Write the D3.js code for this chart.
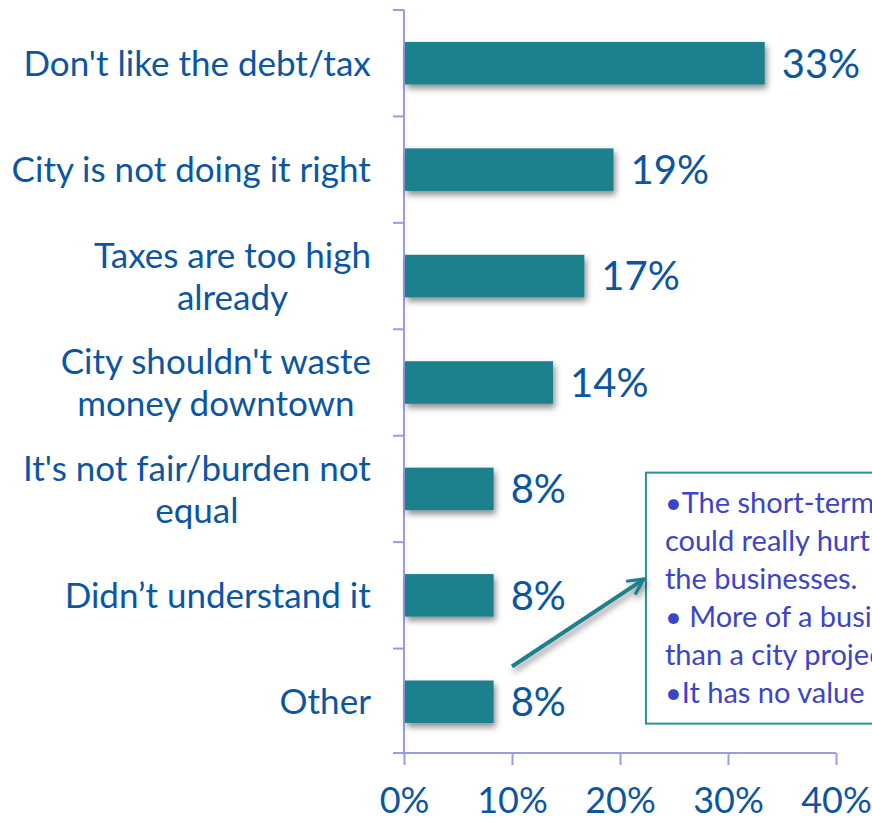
<!DOCTYPE html>
<html>
<head>
<meta charset="utf-8">
<script src="https://cdn.jsdelivr.net/npm/d3@7"></script>
<style>
  body { margin: 0; background: #fff; }
  svg { display: block; font-family: Lato, "Open Sans", sans-serif; }
</style>
</head>
<body>
<script>
var categories = [
  ["Don't like the debt/tax"],
  ["City is not doing it right"],
  ["Taxes are too high", "already"],
  ["City shouldn't waste", "money downtown"],
  ["It's not fair/burden not", "equal"],
  ["Didn\u2019t understand it"],
  ["Other"]
];
var values = [33.4, 19.4, 16.7, 13.8, 8.3, 8.3, 8.3];
var labels = ["33%", "19%", "17%", "14%", "8%", "8%", "8%"];
var xTicks = [0, 10, 20, 30, 40];
var calloutLines = [
  "\u2022The short-term",
  "could really hurt",
  "the businesses.",
  "\u2022 More of a business",
  "than a city project",
  "\u2022It has no value"
];

var W = 872, H = 822;
var teal = "#1f808d", blue = "#0b56a3", axisCol = "#9a9ae6";

var svg = d3.select("body").append("svg")
  .attr("width", W).attr("height", H);

var defs = svg.append("defs");
var f = defs.append("filter").attr("id", "shadow")
  .attr("x", "-10%").attr("y", "-20%").attr("width", "130%").attr("height", "160%");
f.append("feDropShadow").attr("dx", 2).attr("dy", 4).attr("stdDeviation", 3)
  .attr("flood-color", "#000").attr("flood-opacity", 0.45);

defs.append("marker").attr("id", "arrow")
  .attr("viewBox", "0 0 10 10").attr("refX", 9).attr("refY", 5)
  .attr("markerWidth", 5).attr("markerHeight", 5).attr("orient", "auto")
  .append("path").attr("d", "M1,1 L9,5 L1,9")
  .attr("fill", "none").attr("stroke", teal).attr("stroke-width", 1.6);

var keys = categories.map(function(d, i) { return i; });
var x = d3.scaleLinear().domain([0, 40]).range([404, 836]);
var y = d3.scaleBand().domain(keys).range([10, 755])
  .paddingInner(0.6).paddingOuter(0.3);

// left axis: line + ticks on band boundaries
var yAxis = svg.append("g").attr("stroke", axisCol).attr("stroke-width", 2);
yAxis.append("line").attr("x1", x(0)).attr("x2", x(0))
  .attr("y1", y.range()[0]).attr("y2", y.range()[1]);
var bounds = keys.map(function(k) { return y(k) - y.step() * 0.3; });
yAxis.selectAll("line.tk").data(bounds).enter().append("line")
  .attr("class", "tk")
  .attr("x1", x(0) - 11).attr("x2", x(0))
  .attr("y1", function(d) { return d; }).attr("y2", function(d) { return d; });

// bottom axis
var xAxis = svg.append("g")
  .attr("transform", "translate(0," + 753 + ")")
  .call(d3.axisBottom(x).tickValues(xTicks).tickSize(12).tickPadding(22)
    .tickFormat(function(d) { return d + "%"; }));
xAxis.select(".domain").attr("stroke", axisCol).attr("stroke-width", 2)
  .attr("d", "M" + (x(0) - 11) + ",0H" + x(40));
xAxis.selectAll(".tick line").attr("stroke", axisCol).attr("stroke-width", 2);
xAxis.selectAll(".tick text").attr("fill", blue)
  .style("font-size", "36px").style("font-family", "Lato, sans-serif");

// bars
svg.selectAll("rect.bar").data(values).enter().append("rect")
  .attr("class", "bar")
  .attr("x", x(0) + 1)
  .attr("y", function(d, i) { return y(i); })
  .attr("width", function(d) { return x(d) - x(0) - 1; })
  .attr("height", y.bandwidth())
  .attr("fill", teal)
  .attr("filter", "url(#shadow)");

// value labels
svg.selectAll("text.val").data(values).enter().append("text")
  .attr("class", "val")
  .attr("x", function(d) { return x(d) + 17; })
  .attr("y", function(d, i) { return y(i) + y.bandwidth() / 2; })
  .attr("dy", "0.36em")
  .attr("fill", blue)
  .style("font-size", "40px")
  .text(function(d, i) { return labels[i]; });

// category labels (multi-line, centred block, right aligned)
var catG = svg.selectAll("g.cat").data(categories).enter().append("g")
  .attr("class", "cat");
catG.each(function(lines, i) {
  var g = d3.select(this);
  var lh = 42;
  var cy = y(i) + y.bandwidth() / 2;
  var t = g.append("text")
    .attr("fill", blue).style("font-size", "35px")
    .attr("text-anchor", "middle");
  lines.forEach(function(l, j) {
    t.append("tspan").attr("x", 0)
      .attr("y", cy + (j - (lines.length - 1) / 2) * lh)
      .attr("dy", "0.36em").text(l);
  });
  var w = t.node().getBBox().width;
  t.attr("transform", "translate(" + (371 - w / 2) + ",0)");
});

// callout box
var bx = x(22.4), by = y(4) + 5;
svg.append("rect")
  .attr("x", bx).attr("y", by)
  .attr("width", 300).attr("height", 251)
  .attr("fill", "#fff").attr("stroke", "#2b9199").attr("stroke-width", 2);
svg.append("text")
  .attr("fill", "#3c45c9").style("font-size", "29px")
  .selectAll("tspan").data(calloutLines).enter().append("tspan")
  .attr("x", bx + 19)
  .attr("y", function(d, i) { return by + 40 + i * 38; })
  .text(function(d) { return d; });

// arrow
svg.append("line")
  .attr("x1", x(10)).attr("y1", y(6) - 14)
  .attr("x2", bx - 2).attr("y2", y(5) + 5)
  .attr("stroke", teal).attr("stroke-width", 4)
  .attr("marker-end", "url(#arrow)")
  .attr("filter", "url(#shadow)");
</script>
</body>
</html>
